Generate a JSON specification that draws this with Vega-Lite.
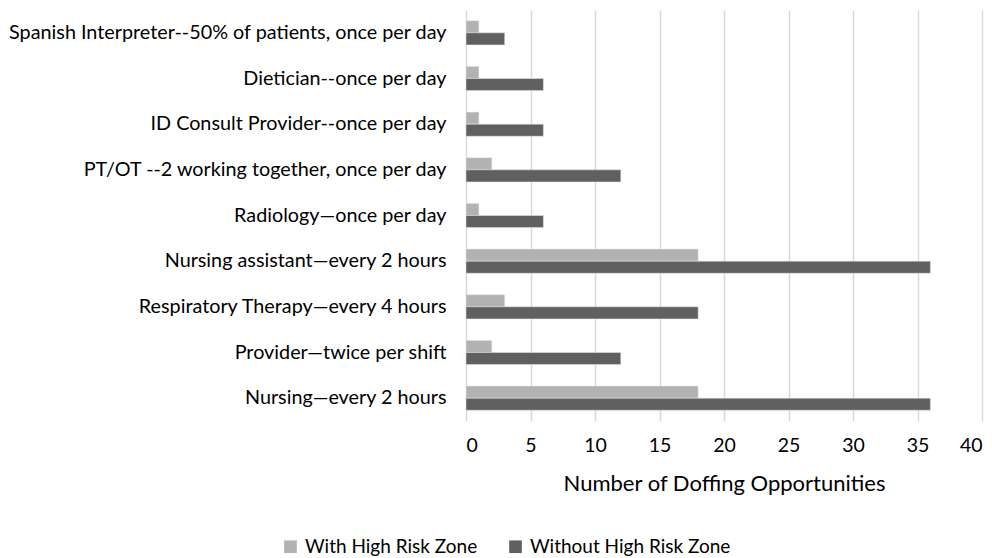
{
  "$schema": "https://vega.github.io/schema/vega-lite/v6.json",
  "width": 516,
  "height": 411,
  "autosize": {"type": "none"},
  "padding": {"left": 466, "top": 10, "right": 10, "bottom": 137},
  "background": "white",
  "config": {
    "font": "Lato",
    "view": {"stroke": null}
  },
  "data": {
    "values": [
      {"role": "Spanish Interpreter--50% of patients, once per day", "series": "With High Risk Zone", "value": 1},
      {"role": "Spanish Interpreter--50% of patients, once per day", "series": "Without High Risk Zone", "value": 3},
      {"role": "Dietician--once per day", "series": "With High Risk Zone", "value": 1},
      {"role": "Dietician--once per day", "series": "Without High Risk Zone", "value": 6},
      {"role": "ID Consult Provider--once per day", "series": "With High Risk Zone", "value": 1},
      {"role": "ID Consult Provider--once per day", "series": "Without High Risk Zone", "value": 6},
      {"role": "PT/OT --2 working together, once per day", "series": "With High Risk Zone", "value": 2},
      {"role": "PT/OT --2 working together, once per day", "series": "Without High Risk Zone", "value": 12},
      {"role": "Radiology—once per day", "series": "With High Risk Zone", "value": 1},
      {"role": "Radiology—once per day", "series": "Without High Risk Zone", "value": 6},
      {"role": "Nursing assistant—every 2 hours", "series": "With High Risk Zone", "value": 18},
      {"role": "Nursing assistant—every 2 hours", "series": "Without High Risk Zone", "value": 36},
      {"role": "Respiratory Therapy—every 4 hours", "series": "With High Risk Zone", "value": 3},
      {"role": "Respiratory Therapy—every 4 hours", "series": "Without High Risk Zone", "value": 18},
      {"role": "Provider—twice per shift", "series": "With High Risk Zone", "value": 2},
      {"role": "Provider—twice per shift", "series": "Without High Risk Zone", "value": 12},
      {"role": "Nursing—every 2 hours", "series": "With High Risk Zone", "value": 18},
      {"role": "Nursing—every 2 hours", "series": "Without High Risk Zone", "value": 36}
    ]
  },
  "mark": {"type": "bar", "stroke": "#e8e8e8", "strokeWidth": 0.5},
  "encoding": {
    "y": {
      "field": "role",
      "type": "nominal",
      "sort": null,
      "scale": {"paddingInner": 0.47, "paddingOuter": 0.235},
      "axis": {
        "title": null,
        "domain": false,
        "ticks": false,
        "labelFontSize": 19.8,
        "labelColor": "#000000",
        "labelPadding": 20,
        "labelLimit": 470
      }
    },
    "yOffset": {"field": "series", "type": "nominal", "sort": ["With High Risk Zone", "Without High Risk Zone"]},
    "x": {
      "field": "value",
      "type": "quantitative",
      "scale": {"domain": [0, 40]},
      "axis": {
        "title": "Number of Doffing Opportunities",
        "titleFontSize": 22,
        "titleFontWeight": "normal",
        "titleColor": "#000000",
        "titlePadding": 19,
        "values": [0, 5, 10, 15, 20, 25, 30, 35, 40],
        "domain": false,
        "ticks": false,
        "grid": true,
        "gridColor": "#d9d9d9",
        "gridWidth": 1.5,
        "labelFontSize": 19.5,
        "labelColor": "#000000",
        "labelPadding": 15
      }
    },
    "color": {
      "field": "series",
      "type": "nominal",
      "scale": {"domain": ["With High Risk Zone", "Without High Risk Zone"], "range": ["#b2b2b2", "#606060"]},
      "legend": {
        "title": null,
        "orient": "none",
        "direction": "horizontal",
        "legendX": -185,
        "legendY": 527,
        "symbolType": "square",
        "symbolSize": 160,
        "symbolStrokeWidth": 0,
        "labelFontSize": 19,
        "labelLimit": 300,
        "labelColor": "#000000",
        "columnPadding": 28,
        "labelOffset": 5
      }
    }
  }
}
